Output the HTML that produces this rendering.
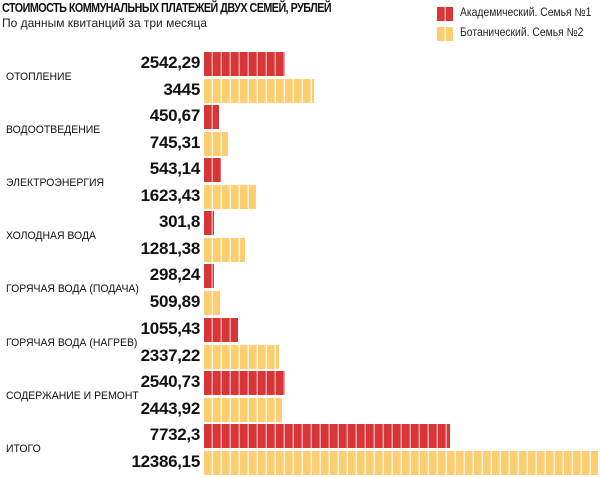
<!DOCTYPE html>
<html><head><meta charset="utf-8"><style>
body{margin:0;width:600px;height:478px;background:#fff;position:relative;overflow:hidden;font-family:"Liberation Sans",sans-serif;color:#111}
.t{position:absolute;left:2px;top:1px;font-weight:bold;font-size:12.5px;letter-spacing:-0.6px;transform:scaleX(0.86);transform-origin:left top;white-space:nowrap}
.s{position:absolute;left:2px;top:16px;font-size:12px;color:#222}
.c{position:absolute;left:6px;font-size:11px;transform:scaleX(0.95);transform-origin:left;white-space:nowrap}
.v{position:absolute;right:400px;font-weight:bold;font-size:17px;letter-spacing:-0.3px;white-space:nowrap}
.b{position:absolute;left:204px;height:24px}
.r{background:repeating-linear-gradient(90deg,#d63638 0 7.5px,#f2a0a0 7.5px 9px)}
.y{background:repeating-linear-gradient(90deg,#fdcd72 0 7.5px,#fff3d8 7.5px 9px)}
.lg{position:absolute;left:437px;width:16px;height:14px}
.lt{position:absolute;left:460px;font-size:11.5px;color:#222;white-space:nowrap;transform:scaleX(0.9);transform-origin:left}
</style></head><body>
<div class="t">СТОИМОСТЬ КОММУНАЛЬНЫХ ПЛАТЕЖЕЙ ДВУХ СЕМЕЙ, РУБЛЕЙ</div>
<div class="s">По данным квитанций за три месяца</div>
<div class="lg r" style="top:7px"></div><div class="lt" style="top:7px">Академический. Семья №1</div>
<div class="lg y" style="top:27px"></div><div class="lt" style="top:27px">Ботанический. Семья №2</div>

<div class="c" style="top:71px">ОТОПЛЕНИЕ</div>
<div class="v" style="top:53px">2542,29</div><div class="b r" style="top:52px;width:81px"></div>
<div class="v" style="top:80px">3445</div><div class="b y" style="top:79px;width:110px"></div>

<div class="c" style="top:124px">ВОДООТВЕДЕНИЕ</div>
<div class="v" style="top:106px">450,67</div><div class="b r" style="top:105px;width:15px"></div>
<div class="v" style="top:133px">745,31</div><div class="b y" style="top:132px;width:24px"></div>

<div class="c" style="top:177px">ЭЛЕКТРОЭНЕРГИЯ</div>
<div class="v" style="top:159px">543,14</div><div class="b r" style="top:158px;width:17px"></div>
<div class="v" style="top:186px">1623,43</div><div class="b y" style="top:185px;width:52px"></div>

<div class="c" style="top:230px">ХОЛОДНАЯ ВОДА</div>
<div class="v" style="top:212px">301,8</div><div class="b r" style="top:211px;width:10px"></div>
<div class="v" style="top:239px">1281,38</div><div class="b y" style="top:238px;width:41px"></div>

<div class="c" style="top:283px">ГОРЯЧАЯ ВОДА (ПОДАЧА)</div>
<div class="v" style="top:265px">298,24</div><div class="b r" style="top:264px;width:10px"></div>
<div class="v" style="top:292px">509,89</div><div class="b y" style="top:291px;width:16px"></div>

<div class="c" style="top:337px">ГОРЯЧАЯ ВОДА (НАГРЕВ)</div>
<div class="v" style="top:319px">1055,43</div><div class="b r" style="top:318px;width:34px"></div>
<div class="v" style="top:346px">2337,22</div><div class="b y" style="top:345px;width:75px"></div>

<div class="c" style="top:390px">СОДЕРЖАНИЕ И РЕМОНТ</div>
<div class="v" style="top:372px">2540,73</div><div class="b r" style="top:371px;width:81px"></div>
<div class="v" style="top:399px">2443,92</div><div class="b y" style="top:398px;width:78px"></div>

<div class="c" style="top:443px">ИТОГО</div>
<div class="v" style="top:425px">7732,3</div><div class="b r" style="top:424px;width:246px"></div>
<div class="v" style="top:452px">12386,15</div><div class="b y" style="top:451px;width:394px"></div>
</body></html>
